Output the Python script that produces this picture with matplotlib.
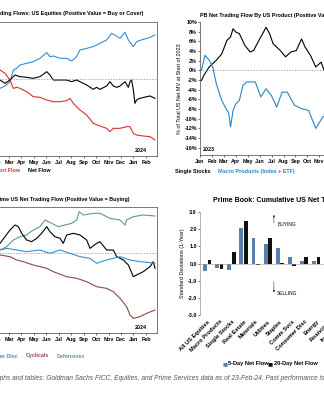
import numpy as np
import matplotlib
matplotlib.use('Agg')
import matplotlib.pyplot as plt
from matplotlib import font_manager

names = {f.name for f in font_manager.fontManager.ttflist}
FONT = 'Liberation Sans Narrow' if 'Liberation Sans Narrow' in names else 'Liberation Sans'
plt.rcParams.update({
    'font.family': FONT,
    'font.weight': 'bold',
    'font.size': 3.9,
    'axes.linewidth': 0.5,
    'axes.edgecolor': '#444444',
    'xtick.major.width': 0.4,
    'ytick.major.width': 0.4,
    'xtick.major.size': 1.2,
    'ytick.major.size': 1.2,
    'xtick.major.pad': 1.5,
    'ytick.major.pad': 1.0,
})

W, H = 324, 400


def fx(x):
    return x / W


def fy(y):
    return 1 - y / H


# month axis (0 = Jan 2023)
month_ticks = list(range(14))
month_labels = ['Jan', 'Feb', 'Mar', 'Apr', 'May', 'Jun', 'Jul', 'Aug', 'Sep',
                'Oct', 'Nov', 'Dec', 'Jan', 'Feb']

# --- US equities trading flows
long_m = [1.28, 1.68, 2.08, 2.35, 2.62, 2.88, 3.42, 3.95, 4.49, 5.03, 5.29, 5.56, 6.10,
          6.63, 7.03, 7.44, 7.70, 8.24, 8.77, 9.31, 9.84, 10.25, 10.51, 10.92, 11.32,
          11.59, 11.99, 12.25, 12.79, 13.33, 13.73]
long_flow = [-1.4, -1.05, -0.4, 1.35, 1.6, 2.1, 2.35, 2.6, 3.1, 3.95, 3.35, 3.45, 3.1,
             3.1, 2.7, 3.35, 4.35, 4.6, 4.85, 5.35, 5.85, 6.85, 6.6, 6.1, 7.0,
             5.85, 4.85, 5.6, 5.95, 6.25, 6.6]

net_m = [1.28, 1.68, 2.08, 2.48, 2.88, 3.42, 3.95, 4.49, 5.03, 5.29, 5.56, 6.10, 6.63,
         7.03, 7.44, 7.70, 8.24, 8.77, 9.04, 9.31, 9.84, 10.11, 10.38, 10.65, 10.92,
         11.32, 11.59, 11.72, 11.85, 11.99, 12.12, 12.25, 12.52, 13.06, 13.33, 13.73]
net_flow = [-0.15, -0.65, -0.15, 0.6, 0.35, 0.25, 0.1, 0.35, 1.1, 0.6, -0.15, -0.15, -0.15,
            -0.4, -0.15, -0.4, -0.9, -1.55, -1.25, -1.55, -1.05, -0.4, -1.05, -1.25, -1.05,
            -0.4, -1.25, -0.4, -0.15, -1.65, -3.65, -3.15, -2.9, -2.65, -2.55, -2.9]

short_m = [1.28, 1.68, 2.08, 2.35, 2.62, 2.88, 3.42, 3.95, 4.49, 5.03, 5.56, 6.10, 6.63,
           6.90, 7.17, 7.70, 8.24, 8.77, 9.31, 9.84, 10.11, 10.38, 10.92, 11.45, 11.72,
           11.99, 12.25, 12.79, 13.33, 13.73]
short_flow = [1.35, 0.85, -0.15, -1.4, -1.25, -1.4, -1.9, -2.65, -2.75, -3.15, -3.4, -3.4, -3.25,
              -2.9, -3.65, -4.65, -5.4, -6.65, -7.05, -7.4, -7.9, -7.4, -7.4, -7.15, -7.15,
              -8.15, -8.4, -8.55, -8.65, -9.15]

# --- net trading flow by US product (% of total US net MV)
single_m = [0.12, 0.33, 0.77, 1.37, 1.82, 2.26, 2.56, 2.77, 3.01, 3.30, 3.75, 4.20, 4.49,
            4.94, 5.54, 5.83, 6.13, 6.73, 7.17, 7.62, 8.07, 8.51, 8.81, 9.26, 9.70,
            10.15, 10.45, 10.74, 11.04]
single_stocks = [-2.1, -1.0, 0.7, 2.1, 3.4, 6.2, 6.9, 8.6, 7.9, 7.6, 5.2, 3.8, 4.1,
                 6.2, 8.9, 7.6, 5.5, 4.1, 2.8, 3.8, 4.1, 6.5, 4.8, 3.1, 0.7,
                 1.7, -0.3, -1.4, -1.4]
macro_m = [0.12, 0.42, 0.77, 1.07, 1.37, 1.82, 2.11, 2.41, 2.56, 2.77, 3.01, 3.30, 3.60,
           3.90, 4.64, 5.09, 5.54, 5.98, 6.43, 6.88, 7.32, 7.92, 8.51, 9.11, 9.70,
           10.30, 10.74, 11.04]
macro_products = [0.0, 3.1, 2.1, 0.7, -2.8, -6.2, -7.6, -8.9, -11.7, -8.3, -6.9, -6.2, -3.1,
                  -2.4, -2.4, -5.5, -3.8, -5.2, -7.6, -4.5, -4.5, -7.2, -7.9, -8.3, -12.0,
                  -9.6, -9.6, -7.9]
product_ticks = list(range(10, -17, -2))

# --- sector net trading flow
def_m = [1.28, 1.82, 2.35, 2.88, 3.42, 3.95, 4.49, 4.89, 5.43, 5.96, 6.50, 7.03, 7.44,
         7.63, 7.97, 8.77, 9.31, 10.11, 10.92, 11.32, 11.45, 11.99, 12.79, 13.73]
defensives = [0.45, 0.95, 1.95, 2.45, 2.7, 3.45, 3.95, 4.95, 4.45, 3.95, 4.2, 4.45, 4.95,
              6.2, 5.7, 5.95, 5.95, 5.2, 4.95, 4.2, 4.95, 5.45, 5.7, 5.55]
tech_m = [1.28, 1.68, 2.08, 2.48, 2.75, 3.02, 3.42, 3.82, 4.22, 4.62, 5.03, 5.29, 5.69,
          6.10, 6.36, 6.63, 7.17, 7.70, 8.24, 8.51, 9.04, 9.31, 9.84, 10.38, 10.65,
          11.19, 11.59, 11.99, 12.25, 12.79, 13.33, 13.59, 13.73]
tech = [1.45, 2.45, 3.45, 4.2, 3.95, 2.95, 1.95, 1.7, 2.2, 2.95, 3.95, 3.2, 2.45,
        2.2, 1.45, 2.7, 2.95, 2.7, 1.95, 0.7, 1.45, 1.7, 0.45, 0.45, -0.55,
        -1.05, -1.8, -3.55, -3.3, -2.8, -2.05, -1.3, -2.3]
disc_m = [1.28, 1.82, 2.62, 3.42, 4.49, 5.29, 6.10, 6.90, 7.70, 8.50, 9.04, 9.84, 10.38,
          10.92, 11.32, 11.72, 12.52, 13.33, 13.73]
consumer_disc = [0.45, 0.7, 0.45, 0.2, 0.45, -0.05, 0.45, -0.05, -0.55, -0.8, -1.55, -1.05, -0.8,
                 -0.55, -0.8, -1.05, -1.3, -1.45, -1.55]
cyc_m = [1.28, 2.08, 2.62, 3.15, 3.95, 5.03, 5.56, 6.63, 7.44, 8.24, 9.04, 9.84, 10.38,
         10.92, 11.45, 11.72, 11.99, 12.52, 13.06, 13.73]
cyclicals = [-0.3, -0.55, -1.05, -1.3, -1.8, -2.3, -2.8, -3.55, -3.8, -4.3, -5.05, -5.3, -5.8,
             -6.8, -8.05, -9.3, -9.8, -9.55, -9.05, -8.55]

# --- cumulative net trading flow by category (standard deviations)
categories = ['All US Equities', 'Macro Products', 'Single Stocks', 'Real Estate',
              'Materials', 'Utilities', 'Staples', 'Comm Svcs', 'Consumer Disc',
              'Energy', 'Financials', 'Industrials', 'Health Care', 'Tech']
five_day = [-0.42, -0.25, -0.35, 2.05, 1.5, 1.15, 0.9, 0.35, 0.15, 0.15, 0.1, 0.2, -0.3, -0.5]
twenty_day = [0.18, -0.3, 0.65, 2.48, -0.1, 1.5, 0.02, -0.15, 0.4, 0.35, 0.2, 0.3, -0.2, -0.4]
sd_ticks = [3.0, 2.0, 1.0, 0.0, -1.0, -2.0, -3.0]

BLUE = '#2f8fd6'
RED = '#d9302c'
MACRO_BLUE = '#2a86c2'
TEAL = '#5e9a8c'
BROWN = '#8c4a46'
BAR_BLUE = '#5a7fa8'
DASH = '#8a8a8a'

fig = plt.figure(figsize=(W / 100, H / 100), dpi=100)


def month_axis(ax, right):
    ax.set_xlim(0, right)
    ax.set_xticks(month_ticks)
    ax.set_xticklabels(month_labels)
    ax.tick_params(axis='x', length=1.2)


# top left: US equities flows
ax1 = fig.add_axes([fx(-15.9), fy(156), fx(172.9), (156 - 22) / H])
ax1.plot(long_m, long_flow, color=BLUE, lw=0.8)
ax1.plot(short_m, short_flow, color=RED, lw=0.8)
ax1.plot(net_m, net_flow, color='black', lw=0.8)
ax1.axhline(0, color=DASH, lw=0.5, ls=(0, (2, 2)))
ax1.set_ylim(-11.55, 8.55)
month_axis(ax1, 13.89)
ax1.text(12.6, 0.02, '2024', transform=ax1.get_xaxis_transform(), ha='center', va='bottom')
fig.text(fx(143), fy(14), 'Prime Book: US Net Trading Flows: US Equities (Positive Value = Buy or Cover)',
         ha='right', va='center')
fig.text(fx(-40), fy(171), 'Long Flow', color=BLUE, ha='right', va='center')
fig.text(fx(20), fy(171), 'Short Flow', color=RED, ha='right', va='center')
fig.text(fx(28), fy(171), 'Net Flow', color='black', ha='left', va='center')

# top right: flows by product
ax2 = fig.add_axes([fx(200), fy(155), fx(173), (155 - 22) / H])
ax2.plot(single_m, single_stocks, color='black', lw=0.8)
ax2.plot(macro_m, macro_products, color=MACRO_BLUE, lw=0.8)
ax2.axhline(0, color=DASH, lw=0.5, ls=(0, (2, 2)))
ax2.set_ylim(-17.5, 9.9)
ax2.set_yticks(product_ticks)
ax2.set_yticklabels([f'{t}%' for t in product_ticks])
ax2.spines[['top', 'right']].set_visible(False)
month_axis(ax2, 14.5)
ax2.set_ylabel('% of Total US Net MV at Start of 2023', labelpad=1.5)
ax2.text(0.25, 0.02, '2023', transform=ax2.get_xaxis_transform(), ha='left', va='bottom')
fig.text(fx(200), fy(15), 'PB Net Trading Flow By US Product (Positive Value = Buying)',
         ha='left', va='center')
fig.text(fx(175), fy(171), 'Single Stocks', color='black', ha='left', va='center')
fig.text(fx(218), fy(171), 'Macro Products (Index + ETF)', color=MACRO_BLUE, ha='left', va='center')

# bottom left: sector flows
ax3 = fig.add_axes([fx(-15.9), fy(333), fx(172.9), (333 - 207) / H])
ax3.plot(def_m, defensives, color=TEAL, lw=0.8)
ax3.plot(tech_m, tech, color='black', lw=0.8)
ax3.plot(disc_m, consumer_disc, color=BLUE, lw=0.8)
ax3.plot(cyc_m, cyclicals, color=BROWN, lw=0.8)
ax3.axhline(0, color=DASH, lw=0.5, ls=(0, (2, 2)))
ax3.set_ylim(-12.0, 6.9)
month_axis(ax3, 13.89)
ax3.text(12.6, 0.02, '2024', transform=ax3.get_xaxis_transform(), ha='center', va='bottom')
fig.text(fx(130), fy(200), 'Prime Book: Sector Prime US Net Trading Flow (Positive Value = Buying)',
         ha='right', va='center')
fig.text(fx(-45), fy(356), 'Tech', color='black', ha='right', va='center')
fig.text(fx(18), fy(356), 'Consumer Disc', color=BLUE, ha='right', va='center')
fig.text(fx(26), fy(356), 'Cyclicals', color=BROWN, ha='left', va='center')
fig.text(fx(57), fy(356), 'Defensives', color=TEAL, ha='left', va='center')

# bottom right: cumulative net trading flow bars
ax4 = fig.add_axes([fx(200), fy(315), fx(172), (315 - 212) / H])
x = np.arange(len(categories))
ax4.bar(x - 0.18, five_day, 0.32, color=BAR_BLUE)
ax4.bar(x + 0.18, twenty_day, 0.32, color='#111111')
ax4.axhline(0, color='#999999', lw=0.4)
ax4.set_xlim(-0.6, len(categories) - 0.4)
ax4.set_ylim(-3.0, 3.0)
ax4.set_yticks(sd_ticks)
ax4.set_yticklabels([f'{t:.1f}' for t in sd_ticks])
ax4.set_xticks(x)
ax4.set_xticklabels(categories, rotation=45, ha='right', rotation_mode='anchor', fontsize=4.1)
ax4.tick_params(axis='x', length=0, pad=3)
ax4.spines[['top', 'right', 'bottom']].set_visible(False)
ax4.spines['left'].set_color('#999999')
ax4.set_ylabel('Standard Deviations (1-Year)', labelpad=1.5)
ax4.annotate('', xy=(5.5, 3.0), xytext=(5.5, 2.2),
             arrowprops=dict(arrowstyle='-|>', lw=0.4, color='#333333', mutation_scale=3))
ax4.text(5.8, 2.25, 'BUYING', ha='left', va='center', fontsize=3.5, fontweight='normal')
ax4.annotate('', xy=(5.5, -1.85), xytext=(5.5, -0.9),
             arrowprops=dict(arrowstyle='-|>', lw=0.4, color='#333333', mutation_scale=3))
ax4.text(5.7, -1.75, 'SELLING', ha='left', va='center', fontsize=3.5, fontweight='normal')
fig.text(fx(222), fy(364), '\u25a0', color=BAR_BLUE, ha='left', va='center', family='DejaVu Sans')
fig.text(fx(228), fy(364), '5-Day Net Flow', ha='left', va='center', fontsize=4.1)
fig.text(fx(268), fy(364), '\u25a0', color='#111111', ha='left', va='center', family='DejaVu Sans')
fig.text(fx(274), fy(364), '20-Day Net Flow', ha='left', va='center', fontsize=4.1)
fig.text(fx(213), fy(201), 'Prime Book: Cumulative US Net Trading Flow by Sector',
         ha='left', va='center', fontsize=5.0)

# source line, shifted so the sentence runs across both panels
footer = ('Source: Graphs and tables: Goldman Sachs FICC, Equities, and Prime Services data as of '
          '23-Feb-24. Past performance is not indicative of future results.')
renderer = fig.canvas.get_renderer()
probe = fig.text(0, 0, 'Source: Gra', fontsize=4.75, style='italic', fontweight='normal',
                 family='Liberation Sans')
shift = probe.get_window_extent(renderer).width
probe.remove()
fig.text(-shift / W, fy(378), footer, ha='left', va='center', fontsize=4.75, style='italic',
         fontweight='normal', color='#555555', family='Liberation Sans')

fig.savefig('out.png', dpi=100)
